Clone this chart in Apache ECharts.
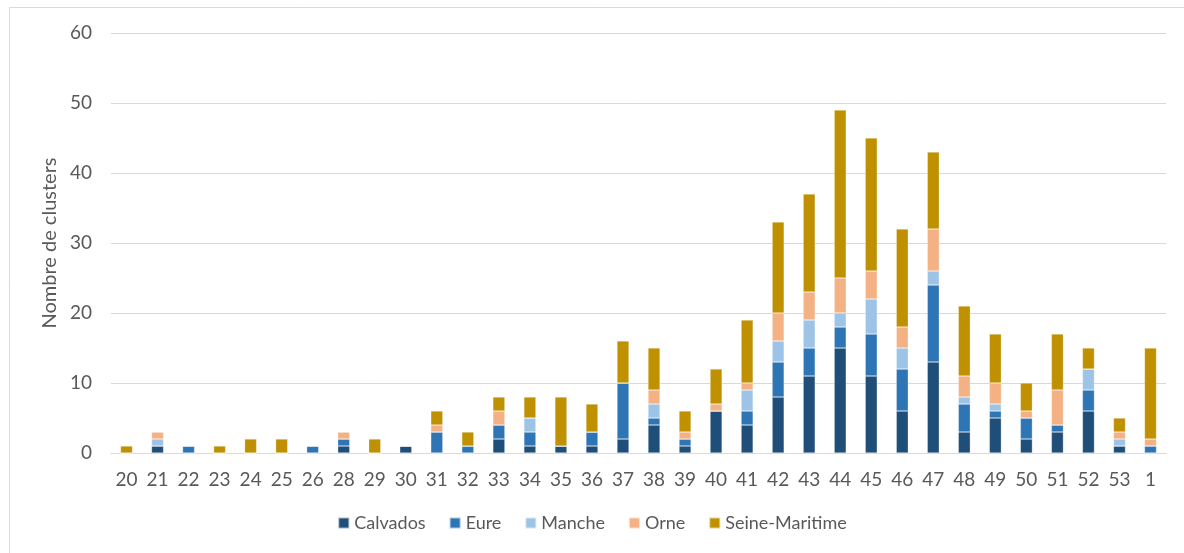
<!DOCTYPE html>
<html><head><meta charset="utf-8">
<script src="https://cdn.jsdelivr.net/npm/echarts@6/dist/echarts.min.js"></script>
<style>html,body{margin:0;padding:0;background:#fff}#c{width:1184px;height:553px}</style>
</head><body><div id="c"></div>
<script>
const weeks = ['20','21','22','23','24','25','26','28','29','30','31','32','33','34','35','36','37','38','39','40','41','42','43','44','45','46','47','48','49','50','51','52','53','1'];
const calvados =      [0,1,0,0,0,0,0,1,0,1,0,0,2,1,1,1,2,4,1,6,4,8,11,15,11,6,13,3,5,2,3,6,1,0];
const eure =          [0,0,1,0,0,0,1,1,0,0,3,1,2,2,0,2,8,1,1,0,2,5,4,3,6,6,11,4,1,3,1,3,0,1];
const manche =        [0,1,0,0,0,0,0,0,0,0,0,0,0,2,0,0,0,2,0,0,3,3,4,2,5,3,2,1,1,0,0,3,1,0];
const orne =          [0,1,0,0,0,0,0,1,0,0,1,0,2,0,0,0,0,2,1,1,1,4,4,5,4,3,6,3,3,1,5,0,1,1];
const seineMaritime = [1,0,0,1,2,2,0,0,2,0,2,2,2,3,7,4,6,6,3,5,9,13,14,24,19,14,11,10,7,4,8,3,2,13];
const yTicks = [0,10,20,30,40,50,60];

const seriesDefs = [
  ['Calvados', calvados, '#1F4E79'],
  ['Eure', eure, '#2E75B6'],
  ['Manche', manche, '#9DC3E6'],
  ['Orne', orne, '#F4B183'],
  ['Seine-Maritime', seineMaritime, '#BF9000']
];
const font = 'Lato, sans-serif';
const chart = echarts.init(document.getElementById('c'), null, {renderer:'canvas'});
chart.setOption({
  animation:false,
  backgroundColor:'#fff',
  graphic:[{type:'polyline', shape:{points:[[9.5,553],[9.5,7.5],[1184,7.5]]}, style:{stroke:'#d9d9d9', lineWidth:1, fill:null}}],
  grid:{left:111, right:18, top:33, bottom:100},
  legend:{
    bottom:16, left:'center', itemWidth:11, itemHeight:11, itemGap:23, icon:'rect',
    textStyle:{color:'#595959', fontSize:18, fontFamily:font}
  },
  xAxis:{
    type:'category', data:weeks,
    axisTick:{show:false},
    axisLine:{lineStyle:{color:'#d9d9d9', width:1}},
    axisLabel:{color:'#595959', fontSize:19, fontFamily:font, margin:17, interval:0}
  },
  yAxis:{
    type:'value', min:yTicks[0], max:yTicks[yTicks.length-1], interval:10,
    name:'Nombre de clusters', nameLocation:'middle', nameGap:49, nameRotate:90,
    nameTextStyle:{color:'#595959', fontSize:20, fontFamily:font},
    axisLine:{show:false}, axisTick:{show:false},
    axisLabel:{color:'#595959', fontSize:19, fontFamily:font, margin:19},
    splitLine:{lineStyle:{color:'#d9d9d9', width:1}}
  },
  series: seriesDefs.map(([name, data, color]) => ({
    name, type:'bar', stack:'total', data, barWidth:12,
    itemStyle:{color, borderColor:'rgba(255,255,255,0.6)', borderWidth:0.5}
  }))
});
</script></body></html>
